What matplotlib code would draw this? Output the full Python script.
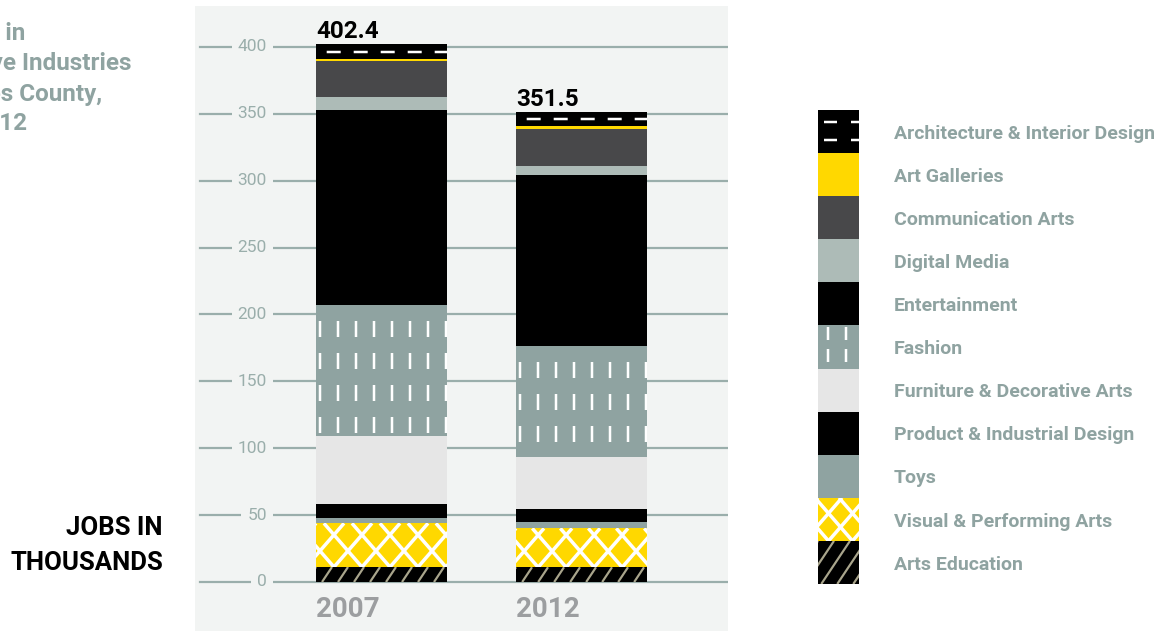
import numpy as np
import matplotlib
matplotlib.use('Agg')
import matplotlib.pyplot as plt

years = ['2007', '2012']
# stacked bottom -> top
categories = ['Arts Education', 'Visual & Performing Arts', 'Toys',
              'Product & Industrial Design', 'Furniture & Decorative Arts',
              'Fashion', 'Entertainment', 'Digital Media', 'Communication Arts',
              'Art Galleries', 'Architecture & Interior Design']
jobs_2007 = [11.2, 32.7, 4.2, 10.2, 50.9, 97.9, 145.8, 9.7, 26.9, 1.3, 11.6]
jobs_2012 = [11.0, 29.1, 4.7, 9.7, 38.9, 82.9, 127.9, 6.7, 27.7, 2.5, 10.4]
yticks = [0, 50, 100, 150, 200, 250, 300, 350, 400]
title_lines = ['Jobs in', 'the Creative Industries', 'in Los Angeles County,', '2007 & 2012']

fill = {'Arts Education': '#000000', 'Visual & Performing Arts': '#ffd800',
        'Toys': '#8fa3a1', 'Product & Industrial Design': '#000000',
        'Furniture & Decorative Arts': '#e6e6e6', 'Fashion': '#8fa3a1',
        'Entertainment': '#000000', 'Digital Media': '#adbbb7',
        'Communication Arts': '#48484a', 'Art Galleries': '#ffd800',
        'Architecture & Interior Design': '#000000'}
panel = '#f2f4f3'
grid_c = '#9aaeab'
label_c = '#8fa3a1'

plt.rcParams['font.family'] = ['Roboto', 'DejaVu Sans']
plt.rcParams['lines.scale_dashes'] = False
PT = 0.72  # points per pixel at dpi 100


def diag(ax, rect, spacing, slope, color, lw):
    x0, y0 = rect.get_x(), rect.get_y()
    x1, y1 = x0 + rect.get_width(), y0 + rect.get_height()
    (px0, py0), (px1, py1) = ax.transData.transform([(x0, y0), (x1, y1)])
    inv = ax.transData.inverted()
    h = py1 - py0
    run = h / abs(slope)
    for c in np.arange(px0 - run - spacing, px1 + run + spacing, spacing):
        pts = inv.transform([(c, py0), (c + h / slope, py1)])
        ln, = ax.plot(pts[:, 0], pts[:, 1], color=color, lw=lw * PT, solid_capstyle='butt', zorder=4)
        ln.set_clip_path(rect)


def dashes(ax, rect, cat, legend=False):
    x0, y0 = rect.get_x(), rect.get_y()
    x1, y1 = x0 + rect.get_width(), y0 + rect.get_height()
    (px0, py0), (px1, py1) = ax.transData.transform([(x0, y0), (x1, y1)])
    inv = ax.transData.inverted()
    if cat == 'Architecture & Interior Design':
        rows = [0.72, 0.3] if legend else [0.5]
        start = 6 if legend else 10.7
        for r in rows:
            py = py0 + r * (py1 - py0)
            pts = inv.transform([(px0, py), (px1, py)])
            on, off = (13 * PT, 14 * PT) if legend else (14 * PT, 13 * PT)
            ln, = ax.plot(pts[:, 0], pts[:, 1], color='white', lw=2.5 * PT,
                          ls=(on + off - start * PT, (on, off)), zorder=4)
            ln.set_clip_path(rect)
    elif cat == 'Fashion':
        first, step = (10, 18) if legend else (4, 18)
        on, off, gap0 = (13, 9, 2) if legend else (16, 16, 16)
        for px in np.arange(px0 + first, px1 + 1, step):
            pts = inv.transform([(px, py1), (px, py0)])
            ln, = ax.plot(pts[:, 0], pts[:, 1], color='white', lw=2.5 * PT,
                          ls=((on + off - gap0) * PT, (on * PT, off * PT)),
                          solid_capstyle='butt', zorder=4)
            ln.set_clip_path(rect)
    elif cat == 'Visual & Performing Arts':
        sp = 24 if legend else 28
        diag(ax, rect, sp, 1.15, 'white', 3.5)
        diag(ax, rect, sp, -1.15, 'white', 3.5)
    elif cat == 'Arts Education':
        diag(ax, rect, 16, 1.5, '#a9a58c', 2.2)


fig = plt.figure(figsize=(11.68, 6.31), dpi=100)
fig.patch.set_facecolor('white')

ax = fig.add_axes([195 / 1168, 0, 533 / 1168, 625 / 631])
ax.set_facecolor(panel)
ax.set_xlim(-0.9325, 1.7325)
ax.set_ylim(-36.64, 430.65)
for s in ax.spines.values():
    s.set_visible(False)
ax.set_xticks([])
ax.set_yticks([])

for t in yticks:
    ax.axhline(t, xmin=5 / 533, xmax=1, color=grid_c, lw=1.6, zorder=1)
    ax.text(-0.5725, t, str(t), ha='right', va='center', fontsize=12.5, color=grid_c,
            bbox=dict(boxstyle='square,pad=0.35', fc=panel, ec='none'), zorder=2)

x = np.arange(len(years))
width = 0.655
data = np.array([jobs_2007, jobs_2012])
bottom = np.zeros(len(years))
for i, cat in enumerate(categories):
    bars = ax.bar(x, data[:, i], width, bottom=bottom, color=fill[cat], lw=0, zorder=3)
    bottom += data[:, i]
    for rect in bars:
        dashes(ax, rect, cat)

for xi, yr, tot in zip(x, years, data.sum(axis=1)):
    ax.annotate('{:.1f}'.format(tot), (xi - width / 2, tot), xytext=(0, 4.3),
                textcoords='offset points', ha='left', va='baseline',
                fontsize=17.5, fontweight='bold', color='black', zorder=5)
    ax.text(xi - width / 2, -26.2, yr, ha='left', va='baseline', fontsize=20,
            fontweight='bold', color='#9c9ea0')

# legend column
lax = fig.add_axes([818 / 1168, 47 / 631, 41 / 1168, 474 / 631])
lax.set_xlim(0, 1)
lax.set_ylim(0, len(categories))
lax.axis('off')
for i, cat in enumerate(categories):
    sw = lax.bar(0.5, 1, 1, bottom=i, color=fill[cat], lw=0, zorder=3)
    dashes(lax, sw[0], cat, legend=True)
    lax.text(1.854, i + 0.45, cat, ha='left', va='center', fontsize=14,
             fontweight='bold', color=label_c, clip_on=False)

fig.text(163 / 1168, 1 - 528 / 631, 'JOBS IN', ha='right', va='center',
         fontsize=18.5, fontweight='bold', color='black')
fig.text(163 / 1168, 1 - 563 / 631, 'THOUSANDS', ha='right', va='center',
         fontsize=18.5, fontweight='bold', color='black')

for line, xe, yc in zip(title_lines, [25, 131, 102, 27], [33, 63, 95, 123]):
    fig.text(xe / 1168, 1 - yc / 631, line, ha='right', va='center',
             fontsize=17.5, fontweight='bold', color=label_c)

fig.savefig('out.png', dpi=100, facecolor='white')
